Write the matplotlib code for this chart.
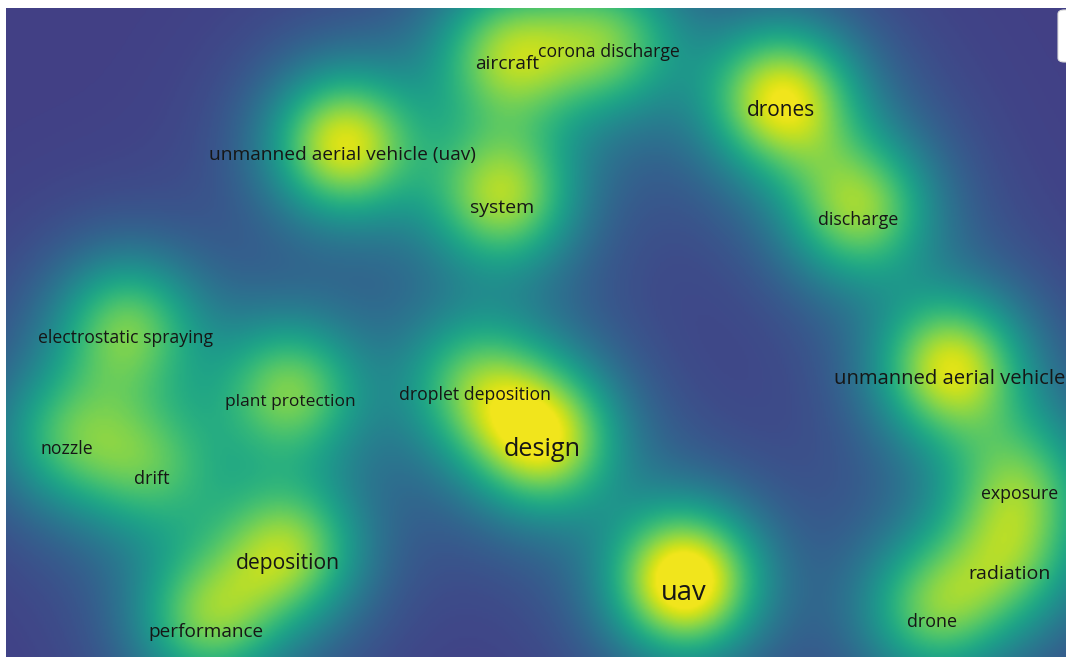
import numpy as np
import matplotlib
matplotlib.use('Agg')
from matplotlib import pyplot as plt
from matplotlib.colors import ListedColormap
from matplotlib.patches import FancyBboxPatch

# keyword map (VOSviewer-style density view)
keywords = ['aircraft', 'corona discharge', 'drones', 'unmanned aerial vehicle (uav)',
            'system', 'discharge', 'electrostatic spraying', 'plant protection',
            'droplet deposition', 'design', 'unmanned aerial vehicle', 'nozzle', 'drift',
            'deposition', 'performance', 'uav', 'exposure', 'radiation', 'drone']
map_x = [507, 609, 781, 342, 502, 858, 126, 290, 475, 542, 950, 67, 152, 288, 206, 684, 1020, 1010, 932]
map_y = [52, 40, 98, 143, 196, 208, 326, 390, 383, 438, 367, 437, 467, 551, 620, 581, 482, 562, 610]
weights = [0.71, 0.62, 0.94, 0.92, 0.78, 0.75, 0.66, 0.69, 0.56, 0.9, 0.9, 0.52, 0.47,
           0.72, 0.66, 1.12, 0.54, 0.49, 0.63]
label_size = [13.8, 12.7, 15, 13.8, 14, 12.9, 12.7, 12.5, 12.7, 18.2, 14.6, 12.7, 13.1,
              15.2, 13.7, 19.7, 12.8, 14, 12.9]

X_MIN, X_MAX = 6, 1066
Y_MIN, Y_MAX = 8, 657
CORE_SIGMA = 50
HALO_SIGMA = 85
HALO_SHARE = 0.2
LABEL_SHIFT = 12

fig = plt.figure(figsize=(10.66, 6.58), dpi=100)
ax = fig.add_axes([X_MIN / 1066, 1 - Y_MAX / 658, (X_MAX - X_MIN) / 1066, (Y_MAX - Y_MIN) / 658])

gx, gy = np.meshgrid(np.arange(X_MIN, X_MAX, 2.0), np.arange(Y_MIN, Y_MAX, 2.0))
density = np.zeros_like(gx)
for x, y, w in zip(map_x, map_y, weights):
    d2 = (gx - x) ** 2 + (gy - y) ** 2
    kernel = (1 - HALO_SHARE) * np.exp(-d2 / (2 * CORE_SIGMA ** 2)) \
        + HALO_SHARE * np.exp(-d2 / (2 * HALO_SIGMA ** 2))
    density += w * kernel

cmap = ListedColormap(plt.cm.viridis(np.linspace(0.19, 0.98, 256)))
ax.imshow(density, cmap=cmap, vmin=0, vmax=1.0, extent=[X_MIN, X_MAX, Y_MAX, Y_MIN],
          interpolation='bilinear', aspect='auto')

for name, x, y, s in zip(keywords, map_x, map_y, label_size):
    ax.text(x, y + LABEL_SHIFT, name, ha='center', va='center', fontsize=s,
            family='Open Sans', color='#161616', clip_on=True)

ax.set_xlim(X_MIN, X_MAX)
ax.set_ylim(Y_MAX, Y_MIN)
ax.axis('off')

# little scrollbar tab at the top-right corner
fig.patches.append(FancyBboxPatch((1058 / 1066, 1 - 62 / 658), 0.02, 52 / 658,
                                  boxstyle='round,pad=0,rounding_size=0.006',
                                  transform=fig.transFigure, facecolor='white',
                                  edgecolor='#dddddd', linewidth=0.8))

fig.savefig('out.png', dpi=100)
